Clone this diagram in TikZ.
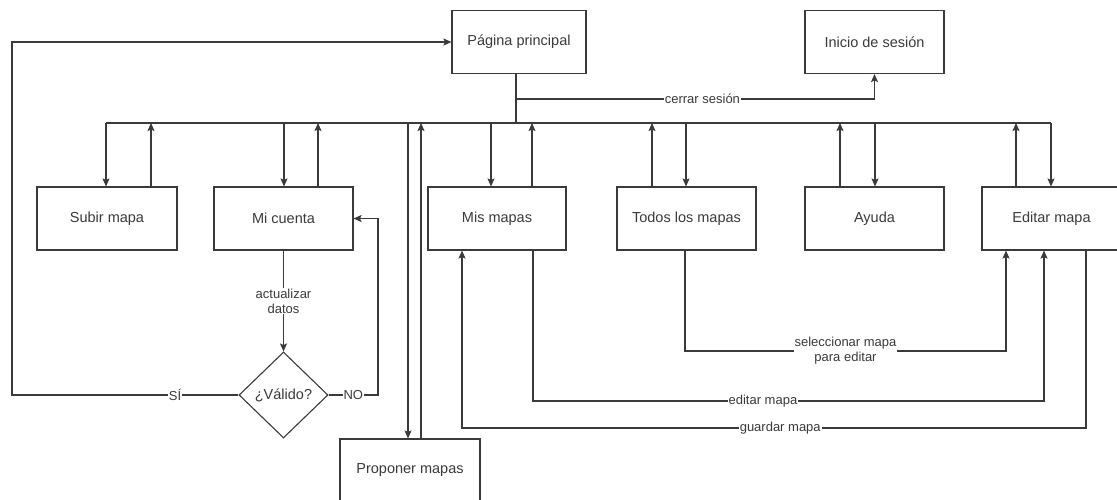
\documentclass[tikz,border=0pt]{standalone}
\usepackage{fontspec}
\setmainfont{Liberation Sans}
\usetikzlibrary{shapes.geometric,arrows.meta,calc}
\definecolor{ink}{HTML}{3A3A3A}
\begin{document}
\begin{tikzpicture}[x=1pt,y=-1pt,
  every node/.style={text=ink},
  box/.style={draw=ink,line width=1.1pt,minimum width=139pt,minimum height=63pt,inner sep=0pt,font=\fontsize{14.5}{17}\selectfont},
  decision/.style={draw=ink,line width=1.1pt,diamond,minimum width=89pt,minimum height=86pt,inner sep=0pt,font=\fontsize{14.5}{17}\selectfont},
  lbl/.style={fill=white,inner sep=1pt,font=\fontsize{13}{15}\selectfont},
  conn/.style={draw=ink,line width=1.1pt},
  arr/.style={conn,-{Stealth[length=8pt,width=7pt,inset=1.5pt]}}]
\useasboundingbox (0,0) rectangle (1117,499);
\fill[white] (0,0) rectangle (1117,499);

% top row
\node[box,minimum width=134pt] (pp) at (519,42) {Página principal};
\node[box] (is) at (874.5,42) {Inicio de sesión};

% middle row
\node[box,minimum width=140pt] (subir) at (107,218.5) {Subir mapa};
\node[box] (cuenta) at (283.5,218.5) {Mi cuenta};
\node[box,minimum width=138pt] (mis) at (497,218.5) {Mis mapas};
\node[box] (todos) at (686.5,218.5) {Todos los mapas};
\node[box] (ayuda) at (874.5,218.5) {Ayuda};
\node[box] (editar) at (1051.5,218.5) {Editar mapa};

% lower part
\node[decision] (valido) at (283.5,395) {¿Válido?};
\node[box,minimum width=140pt] (prop) at (410,470.5) {Proponer mapas};

% bus under the main page
\coordinate (ppj) at (516,123);
\coordinate (cs) at (516,99);
\coordinate (bL) at (106,123);
\coordinate (bR) at (1051,123);
\draw[conn] (ppj |- pp.south) -- (ppj);
\draw[conn] (bL) -- (bR);

% log out
\draw[arr] (cs) -- node[lbl,pos=0.52]{cerrar sesión} (is.south |- cs) -- (is.south);

% down arrows from the bus
\foreach \x/\n in {106/subir,284/cuenta,491/mis,686/todos,875/ayuda,1051/editar}{
  \coordinate (d\n) at (\x,123);
  \draw[arr] (d\n) -- (d\n |- \n.north);
}
% up arrows to the bus
\foreach \x/\n in {151/subir,318/cuenta,532/mis,652/todos,840/ayuda,1016/editar}{
  \coordinate (u\n) at (\x,123);
  \draw[arr] (u\n |- \n.north) -- (u\n);
}

% propose maps
\coordinate (pd) at (408,123);
\coordinate (pu) at (421,123);
\draw[arr] (pd) -- (pd |- prop.north);
\draw[arr] (pu |- prop.north) -- (pu);

% account update
\draw[arr] (cuenta.south) -- node[lbl,align=center]{actualizar\\datos} (valido.north);
\coordinate (noc) at (378,395);
\draw[arr] (valido.east) -- node[lbl]{NO} (noc) |- (cuenta.east);
\coordinate (sic) at (12,395);
\draw[arr] (valido.west) -- node[lbl,pos=0.28]{SÍ} (sic) |- (pp.west);

% map editing flows
\coordinate (t1) at (685,351);
\coordinate (t2) at (1006,351);
\draw[arr] (todos.south -| t1) -- (t1) -- node[lbl,align=center]{seleccionar mapa\\para editar} (t2) -- (t2 |- editar.south);

\coordinate (m1) at (533,401);
\coordinate (m2) at (1044,401);
\draw[arr] (mis.south -| m1) -- (m1) -- node[lbl,pos=0.45]{editar mapa} (m2) -- (m2 |- editar.south);

\coordinate (g1) at (1086,428);
\coordinate (g2) at (462,428);
\draw[arr] (editar.south -| g1) -- (g1) -- node[lbl,pos=0.49]{guardar mapa} (g2) -- (g2 |- mis.south);
\end{tikzpicture}
\end{document}
